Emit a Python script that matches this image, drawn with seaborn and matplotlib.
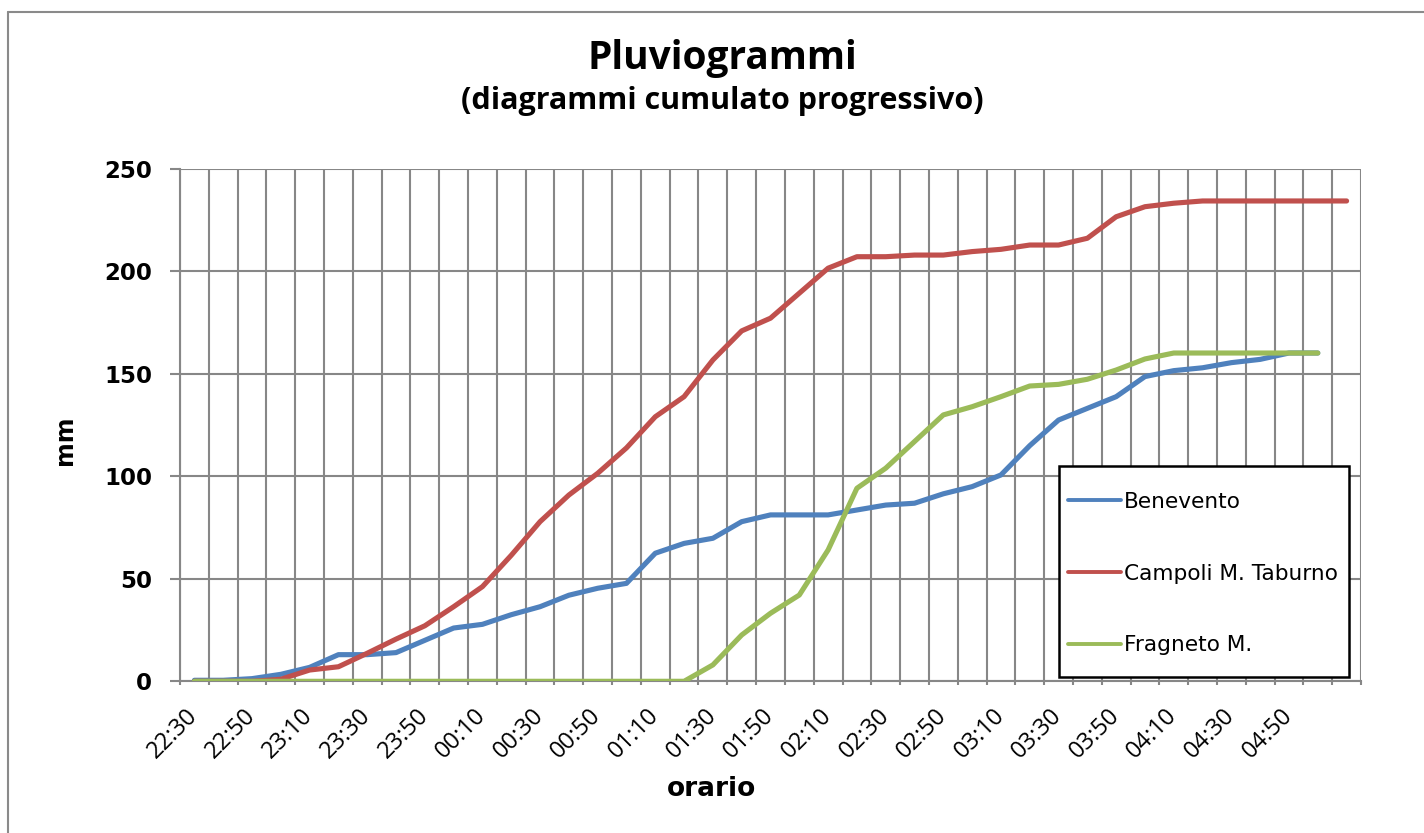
import numpy as np
import pandas as pd
import matplotlib
matplotlib.use("Agg")
import matplotlib.pyplot as plt
import seaborn as sns
from matplotlib.lines import Line2D
from matplotlib.patches import Rectangle
from matplotlib.ticker import FixedLocator, NullFormatter

# 10-minute time steps from 22:30 to 05:10
times = ["22:30", "22:40", "22:50", "23:00", "23:10", "23:20", "23:30", "23:40",
         "23:50", "00:00", "00:10", "00:20", "00:30", "00:40", "00:50", "01:00",
         "01:10", "01:20", "01:30", "01:40", "01:50", "02:00", "02:10", "02:20",
         "02:30", "02:40", "02:50", "03:00", "03:10", "03:20", "03:30", "03:40",
         "03:50", "04:00", "04:10", "04:20", "04:30", "04:40", "04:50", "05:00",
         "05:10"]

# cumulative rainfall (mm)
benevento = [0.5, 0.5, 1.3, 3.4, 6.8, 13.0, 13.0, 14.0, 20.0, 26.0,
             27.8, 32.5, 36.4, 42.0, 45.4, 47.8, 62.5, 67.3, 69.8, 77.9,
             81.2, 81.2, 81.2, 83.6, 86.0, 86.9, 91.5, 95.0, 100.7, 115.0,
             127.5, 133.2, 138.9, 148.7, 151.6, 153.0, 155.5, 157.1, 160.2, 160.2]
campoli = [0.0, 0.0, 0.0, 1.0, 5.5, 7.1, 13.7, 20.6, 27.1, 36.4,
           46.2, 61.5, 77.9, 90.9, 101.5, 113.9, 129.1, 138.9, 156.8, 171.0,
           177.2, 189.4, 201.6, 207.2, 207.2, 208.0, 208.0, 209.7, 210.8, 212.9,
           212.9, 216.2, 226.7, 231.6, 233.3, 234.4, 234.4, 234.4, 234.4, 234.4,
           234.4]
fragneto = [0.0, 0.0, 0.0, 0.0, 0.0, 0.0, 0.0, 0.0, 0.0, 0.0,
            0.0, 0.0, 0.0, 0.0, 0.0, 0.0, 0.0, 0.0, 8.0, 22.6,
            33.2, 42.1, 64.1, 94.2, 104.0, 117.0, 130.0, 134.0, 138.9, 144.1,
            144.9, 147.4, 151.9, 157.3, 160.2, 160.2, 160.2, 160.2, 160.2, 160.2]

stations = ["Benevento", "Campoli M. Taburno", "Fragneto M."]
colors = ["#4F81BD", "#C0504D", "#9BBB59"]
yticks = [0, 50, 100, 150, 200, 250]

frames = []
for name, vals in zip(stations, [benevento, campoli, fragneto]):
    frames.append(pd.DataFrame({"step": np.arange(len(vals)),
                                "mm": vals, "stazione": name}))
df = pd.concat(frames, ignore_index=True)

sns.set_theme(style="white")
plt.rcParams["text.color"] = "black"
W, H = 1424, 833
fig = plt.figure(figsize=(W / 100, H / 100), dpi=100)
fig.patch.set_facecolor("white")

# chart-area frame (left and top edges fall inside the canvas)
frame_kw = dict(transform=fig.transFigure, color="#8A8A8A", linewidth=1.5)
fig.lines.append(Line2D([8 / W, 8 / W], [0, 1 - 12 / H], **frame_kw))
fig.lines.append(Line2D([8 / W, 1], [1 - 12 / H, 1 - 12 / H], **frame_kw))

ax = fig.add_axes([180 / W, 1 - 681.3 / H, (1361 - 180) / W, (681.3 - 169) / H])
ax.set_facecolor("white")

sns.lineplot(data=df, x="step", y="mm", hue="stazione", hue_order=stations,
             palette=colors, linewidth=3.7, ax=ax, legend=True,
             solid_capstyle="round", solid_joinstyle="round", zorder=3)

n = len(times)
ax.set_xlim(-0.5, n - 0.5)
ax.set_ylim(0, 250)

grid_col = "#878787"
# category boundaries as vertical gridlines
ax.xaxis.set_major_locator(FixedLocator(list(range(0, n - 1, 2))))
ax.set_xticklabels([times[i] for i in range(0, n - 1, 2)])
ax.xaxis.set_minor_locator(FixedLocator([i - 0.5 for i in range(n + 1)]))
ax.xaxis.set_minor_formatter(NullFormatter())
ax.grid(which="minor", axis="x", color=grid_col, linewidth=1.5, zorder=0)
ax.grid(which="major", axis="x", visible=False)
ax.set_yticks(yticks)
ax.grid(which="major", axis="y", color=grid_col, linewidth=1.5, zorder=0)
ax.set_axisbelow(True)

for side in ["top", "right"]:
    ax.spines[side].set_visible(False)
for side in ["left", "bottom"]:
    ax.spines[side].set_color(grid_col)
    ax.spines[side].set_linewidth(1.5)

ax.tick_params(axis="y", which="major", left=True, length=7, width=1.5,
               color=grid_col, pad=13, labelsize=16.5, labelcolor="black")
ax.tick_params(axis="x", which="major", bottom=False, length=0, pad=22)
ax.tick_params(axis="x", which="minor", bottom=True, length=3, width=1.5,
               color=grid_col, direction="out")
for lab in ax.get_yticklabels():
    lab.set_fontweight("bold")
    lab.set_fontfamily("DejaVu Sans")
for lab in ax.get_xticklabels():
    lab.set_rotation(45)
    lab.set_ha("right")
    lab.set_va("center")
    lab.set_rotation_mode("anchor")
    lab.set_fontfamily("Open Sans")
    lab.set_fontsize(17)
    lab.set_color("black")

ax.set_xlabel("orario", fontsize=19, fontweight="bold", family="DejaVu Sans",
              color="black")
ax.xaxis.set_label_coords((711 - 180) / 1181, -(776 - 681.3) / 512.3)
ax.set_ylabel("mm", fontsize=17, fontweight="bold", family="DejaVu Sans",
              color="black")
ax.yaxis.set_label_coords((77 - 180) / 1181, (681.3 - 440) / 512.3)

fig.text(722 / W, 1 - 58 / H, "Pluviogrammi", ha="center", va="center",
         fontsize=28, fontweight="bold", family="Open Sans", color="black")
fig.text(722 / W, 1 - 101 / H, "(diagrammi cumulato progressivo)", ha="center",
         va="center", fontsize=22, fontweight="bold", family="Open Sans",
         color="black")

# legend box drawn as its own rectangle, entries placed inside it
box = Rectangle(((1059 - 180) / 1181, (681.3 - 677) / 512.3),
                (1349 - 1059) / 1181, (677 - 465.7) / 512.3,
                transform=ax.transAxes, fill=True, facecolor="white",
                edgecolor="black", linewidth=1.8, zorder=5)
ax.add_patch(box)
leg = ax.legend(loc="upper left",
                bbox_to_anchor=((1068 - 180) / 1181, (681.3 - 492) / 512.3),
                frameon=False, fontsize=15.6, handlelength=2.45,
                handletextpad=0.15, labelspacing=2.38, borderpad=0,
                borderaxespad=0)
for h in leg.get_lines():
    h.set_linewidth(2.8)
for t in leg.get_texts():
    t.set_family("DejaVu Sans")
leg.set_zorder(6)

fig.savefig("out.png", dpi=100, facecolor="white")
